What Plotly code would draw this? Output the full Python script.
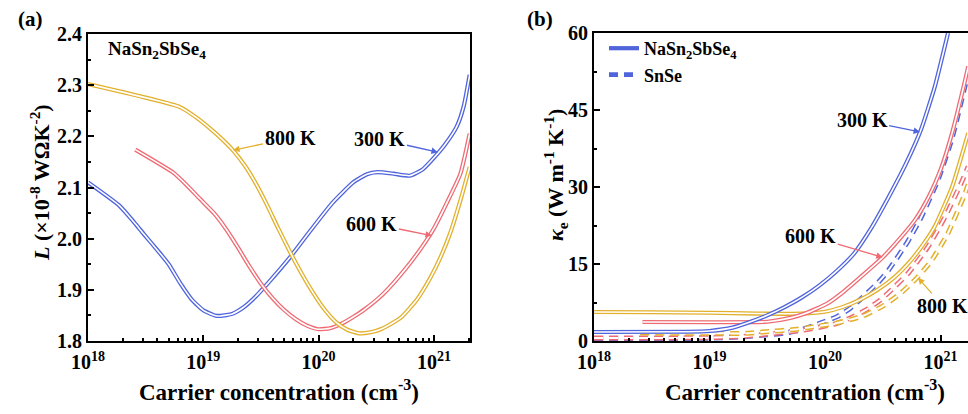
import plotly.graph_objects as go

# ---------------- data ----------------
# Panel (a): Lorenz number L (1e-8 W Ohm K^-2) of NaSn2SbSe4 vs carrier concentration
# carrier concentrations are given as log10(n / cm^-3)
a300_logn = [18.0, 18.27, 18.4, 18.48, 18.6, 18.7, 18.8, 18.9, 19.0, 19.1, 19.15, 19.25, 19.35, 19.45,
             19.58, 19.75, 19.93, 20.12, 20.3, 20.42, 20.51, 20.65, 20.79, 20.9, 21.0, 21.1, 21.2, 21.26, 21.31]
a300_L = [2.11, 2.065, 2.032, 2.01, 1.978, 1.95, 1.913, 1.881, 1.86, 1.850, 1.849, 1.853, 1.866, 1.886,
          1.918, 1.963, 2.016, 2.07, 2.11, 2.126, 2.13, 2.127, 2.123, 2.135, 2.158, 2.185, 2.22, 2.26, 2.32]

a600_logn = [18.41, 18.74, 18.85, 18.97, 19.1, 19.2, 19.3, 19.4, 19.5, 19.6, 19.7, 19.8, 19.9, 20.0,
             20.1, 20.2, 20.3, 20.4, 20.56, 20.75, 20.9, 21.0, 21.11, 21.23, 21.31]
a600_L = [2.174, 2.129, 2.106, 2.078, 2.048, 2.018, 1.983, 1.946, 1.912, 1.884, 1.861, 1.843, 1.830, 1.823,
          1.825, 1.834, 1.847, 1.862, 1.892, 1.94, 1.985, 2.02, 2.069, 2.127, 2.205]

a800_logn = [18.0, 18.8, 18.95, 19.06, 19.16, 19.26, 19.36, 19.45, 19.55, 19.65, 19.75, 19.85, 19.95,
             20.05, 20.15, 20.25, 20.35, 20.45, 20.55, 20.71, 20.85, 20.97, 21.06, 21.14, 21.23, 21.31]
a800_L = [2.302, 2.257, 2.235, 2.215, 2.195, 2.172, 2.143, 2.11, 2.067, 2.02, 1.975, 1.933, 1.895,
          1.862, 1.837, 1.822, 1.815, 1.817, 1.824, 1.845, 1.88, 1.924, 1.965, 2.01, 2.075, 2.14]

# Panel (b): electronic thermal conductivity kappa_e (W m^-1 K^-1)
b300_logn = [18.0, 18.8, 19.0, 19.2, 19.35, 19.5, 19.65, 19.8, 19.95, 20.1, 20.25, 20.4, 20.55,
             20.7, 20.83, 20.95, 21.065]
b300_k = [1.75, 1.8, 1.95, 2.6, 3.7, 5.0, 6.6, 8.5, 10.8, 13.6, 17.0, 22.0, 28.0,
          34.5, 41.1, 49.5, 60.0]

b600_logn = [18.42, 19.0, 19.5, 19.7, 19.84, 20.02, 20.15, 20.28, 20.5, 20.65, 20.78, 20.9, 21.0,
             21.1, 21.21, 21.24]
b600_k = [3.7, 3.65, 3.75, 4.5, 5.45, 7.3, 9.4, 11.9, 16.3, 20.0, 23.6, 28.2, 33.3,
          40.5, 50.5, 53.5]

b800_logn = [18.0, 18.5, 19.0, 19.4, 19.6, 19.8, 20.0, 20.15, 20.3, 20.45, 20.6, 20.74, 20.85,
             20.95, 21.1, 21.24]
b800_k = [5.65, 5.6, 5.5, 5.35, 5.3, 5.35, 5.7, 6.6, 8.0, 9.9, 12.4, 15.6, 18.8, 22.3, 30.0, 40.5]

snse300_logn = [18.0, 18.6, 19.0, 19.3, 19.5, 19.64, 19.78, 19.96, 20.1, 20.22, 20.33, 20.46, 20.55,
                20.72, 20.83, 20.98, 21.1, 21.21, 21.24]
snse300_k = [0.4, 0.45, 0.55, 0.85, 1.2, 1.5, 2.1, 3.5, 4.7, 6.4, 8.6, 11.4, 13.8,
             19.5, 24.0, 31.5, 39.5, 49.5, 52.5]

snse600_logn = [18.0, 18.6, 19.0, 19.3, 19.52, 19.81, 20.1, 20.25, 20.35, 20.48, 20.6, 20.72, 20.89,
                21.04, 21.18, 21.24]
snse600_k = [0.6, 0.6, 0.65, 0.9, 1.4, 2.1, 3.4, 4.8, 6.0, 8.0, 10.5, 13.2, 18.3, 24.2, 30.8, 34.0]

snse800_logn = [18.4, 19.0, 19.32, 19.46, 19.76, 20.1, 20.33, 20.5, 20.66, 20.8, 20.92, 21.06,
                21.21, 21.24]
snse800_k = [1.55, 1.5, 1.5, 1.75, 2.3, 3.5, 4.9, 6.8, 9.4, 12.4, 15.6, 20.8, 28.6, 30.5]

x_tick_exp = [18, 19, 20, 21]
y_ticks_a = [1.8, 1.9, 2.0, 2.1, 2.2, 2.3, 2.4]
y_ticks_b = [0, 15, 30, 45, 60]

BLUE = "#5064dc"
RED = "#ee6b73"
GOLD = "#e2b02c"

FONT = "Liberation Serif"
W, H = 968, 414

fig = go.Figure()


def hollow(xs_log, ys, color, xa, ya, dashed=False):
    """Outlined (double) line: a thick coloured stroke with a thin white core."""
    xs = [10.0 ** v for v in xs_log]
    dash = "9px,6px" if dashed else "solid"
    outer, inner = (5.0, 2.0) if dashed else (4.2, 1.6)
    fig.add_trace(go.Scatter(x=xs, y=ys, mode="lines", xaxis=xa, yaxis=ya,
                             line=dict(color=color, width=outer, dash=dash, shape="spline", smoothing=0.5),
                             showlegend=False, hoverinfo="skip"))
    fig.add_trace(go.Scatter(x=xs, y=ys, mode="lines", xaxis=xa, yaxis=ya,
                             line=dict(color="white", width=inner, dash=dash, shape="spline", smoothing=0.5),
                             showlegend=False, hoverinfo="skip"))


# panel (a)
hollow(a300_logn, a300_L, BLUE, "x", "y")
hollow(a600_logn, a600_L, RED, "x", "y")
hollow(a800_logn, a800_L, GOLD, "x", "y")

# panel (b)
hollow(snse300_logn, snse300_k, BLUE, "x2", "y2", dashed=True)
hollow(snse600_logn, snse600_k, RED, "x2", "y2", dashed=True)
hollow(snse800_logn, snse800_k, GOLD, "x2", "y2", dashed=True)
hollow(b800_logn, b800_k, GOLD, "x2", "y2")
hollow(b600_logn, b600_k, RED, "x2", "y2")
hollow(b300_logn, b300_k, BLUE, "x2", "y2")

# legend entries
fig.add_trace(go.Scatter(x=[None], y=[None], mode="lines", xaxis="x2", yaxis="y2",
                         line=dict(color=BLUE, width=4.2),
                         name="NaSn<sub>2</sub>SbSe<sub>4</sub>", showlegend=True))
fig.add_trace(go.Scatter(x=[None], y=[None], mode="lines", xaxis="x2", yaxis="y2",
                         line=dict(color=BLUE, width=4.6, dash="9px,6px"),
                         name="SnSe", showlegend=True))

tick_font = dict(family=FONT, size=20, color="black", weight="bold")
minor_x = [m * 10.0 ** e for e in range(18, 22) for m in range(2, 10)]
x_text = [f"10<sup>{e}</sup>" for e in x_tick_exp]

common_x = dict(type="log", showline=True, linewidth=2, linecolor="black", automargin=False,
                ticks="inside", ticklen=6, tickwidth=2, tickcolor="black", ticklabelstandoff=2,
                tickmode="array", tickvals=[10.0 ** e for e in x_tick_exp], ticktext=x_text,
                tickfont=tick_font, showgrid=False, zeroline=False,
                minor=dict(tickmode="array", tickvals=minor_x, ticks="inside",
                           ticklen=3, tickwidth=1.5, tickcolor="black", showgrid=False))
common_y = dict(showline=True, linewidth=2, linecolor="black", automargin=False,
                ticks="inside", ticklen=6, tickwidth=2, tickcolor="black",
                tickfont=tick_font, showgrid=False, zeroline=False)

fig.update_layout(
    width=W, height=H, autosize=False,
    margin=dict(l=0, r=0, t=0, b=0, pad=0),
    paper_bgcolor="white", plot_bgcolor="white",
    xaxis=dict(common_x, domain=[88 / W, 470 / W], range=[18, 21.313], anchor="y", mirror=True),
    yaxis=dict(common_y, domain=[(H - 341) / H, (H - 34) / H], range=[1.8, 2.4],
               tickmode="array", tickvals=y_ticks_a, ticktext=[f"{v:.1f}" for v in y_ticks_a],
               minor=dict(dtick=0.05, ticks="inside", ticklen=3, tickwidth=1.5, tickcolor="black"),
               anchor="x", mirror=True),
    xaxis2=dict(common_x, domain=[594 / W, 1.0], range=[18, 21.238], anchor="y2", mirror=True),
    yaxis2=dict(common_y, domain=[(H - 341) / H, (H - 33) / H], range=[0, 60],
                tickmode="array", tickvals=y_ticks_b, ticktext=[str(v) for v in y_ticks_b],
                minor=dict(dtick=7.5, ticks="inside", ticklen=3, tickwidth=1.5, tickcolor="black"),
                anchor="x2", mirror=False),
    legend=dict(x=604 / W, y=(H - 30) / H, xanchor="left", yanchor="top",
                bgcolor="rgba(0,0,0,0)", font=dict(family=FONT, size=18, color="black", weight="bold"),
                itemwidth=30, tracegroupgap=2),
    showlegend=True,
)

lab_font = dict(family=FONT, size=20, color="black", weight="bold")
xtitle_font = dict(family=FONT, size=23, color="black", weight="bold")
ytitle_font = dict(family=FONT, size=22, color="black", weight="bold")

ann = []


def paper_text(text, px, py, font, angle=0, xanchor="center"):
    ann.append(dict(text=text, x=px / W, y=(H - py) / H, xref="paper", yref="paper",
                    xanchor=xanchor, yanchor="middle", showarrow=False,
                    textangle=angle, font=font))


big = dict(family=FONT, size=21, color="black", weight="bold")
paper_text("(a)", 31, 19, big)
paper_text("(b)", 540, 19, big)
paper_text("Carrier concentration (cm<sup>-3</sup>)", 279, 390, xtitle_font)
paper_text("Carrier concentration (cm<sup>-3</sup>)", 805, 390, xtitle_font)
paper_text("<i>L</i> (×10<sup>-8</sup> WΩK<sup>-2</sup>)", 40, 183, ytitle_font, angle=-90)
paper_text("<i>κ</i><sub>e</sub> (W m<sup>-1</sup> K<sup>-1</sup>)", 555, 175, ytitle_font, angle=-90)
paper_text("NaSn<sub>2</sub>SbSe<sub>4</sub>", 106, 50,
           dict(family=FONT, size=19, color="black", weight="bold"), xanchor="left")


def temp_label(text, tip_logx, tip_y, ax, ay, color, xr, yr):
    ann.append(dict(text=text, x=tip_logx, y=tip_y, xref=xr, yref=yr, ax=ax, ay=ay,
                    showarrow=True, arrowhead=2, arrowsize=1, arrowwidth=1.3,
                    arrowcolor=color, standoff=0, font=lab_font))


temp_label("800 K", 19.258, 2.173, 57, -12, GOLD, "x", "y")
temp_label("300 K", 21.035, 2.169, -58, -13, BLUE, "x", "y")
temp_label("600 K", 20.983, 2.006, -60, -12, RED, "x", "y")
temp_label("300 K", 20.823, 40.7, -58, -12, BLUE, "x2", "y2")
temp_label("600 K", 20.5, 16.3, -72, -21, RED, "x2", "y2")
temp_label("800 K", 20.805, 12.3, 25, 28, GOLD, "x2", "y2")

fig.update_layout(annotations=ann)

fig.write_html("out.html")
